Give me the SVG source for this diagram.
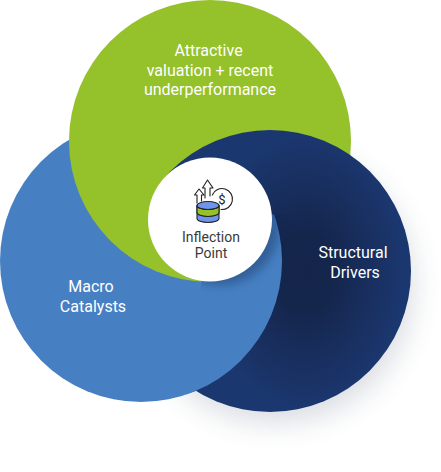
<svg xmlns="http://www.w3.org/2000/svg" width="441" height="472" viewBox="0 0 441 472">
<style>
.lbl{font-family:Roboto,"Liberation Sans",sans-serif;font-size:16px;font-weight:400;fill:#fff;text-anchor:middle}
.dark{font-size:14px;fill:#3a3a3a}
.ic{fill:none;stroke:#222;stroke-width:1.1;stroke-linejoin:round;stroke-linecap:round}
.cy{stroke:#222;stroke-width:1.1}
</style>
<defs>
<radialGradient id="navyG" gradientUnits="userSpaceOnUse" cx="0" cy="0" r="1" gradientTransform="translate(305 272) scale(98 135)">
<stop offset="0" stop-color="#14244a"/><stop offset="0.3" stop-color="#15264d"/><stop offset="1" stop-color="#1b376f"/>
</radialGradient>
<filter id="sh" x="-30%" y="-30%" width="160%" height="170%"><feGaussianBlur stdDeviation="15"/></filter>
<filter id="shW" x="-30%" y="-30%" width="160%" height="160%"><feGaussianBlur stdDeviation="5"/></filter>
<clipPath id="navySector"><polygon points="210,219.5 60,80 60,-20 460,-20 460,500 180,500"/></clipPath>
<clipPath id="blueSector"><polygon points="210,219.5 460,200 460,500 172,500"/></clipPath>
</defs>
<g id="node-shadow"><circle cx="275" cy="285" r="138" fill="#1b2a50" opacity="0.16" filter="url(#sh)"/></g>
<g id="node-macro-base"><circle cx="141" cy="261" r="141" fill="#4680c3"/></g>
<g id="node-valuation">
<circle cx="210" cy="141" r="141" fill="#95c12b"/>
<text class="lbl" x="208.500" y="56">Attractive</text>
<text class="lbl" x="210" y="76">valuation + recent</text>
<text class="lbl" x="210" y="95">underperformance</text>
</g>
<g id="node-structural">
<circle cx="270" cy="271" r="141" fill="url(#navyG)" clip-path="url(#navySector)"/>
</g>
<g id="node-macro">
<circle cx="141" cy="261" r="141" fill="#4680c3" clip-path="url(#blueSector)"/>
<text class="lbl" x="91" y="292">Macro</text>
<text class="lbl" x="93" y="312">Catalysts</text>
</g>
<g id="node-structural-label">
<text class="lbl" x="353" y="258">Structural</text>
<text class="lbl" x="355" y="278">Drivers</text>
</g>
<g id="node-inflection">
<g clip-path="url(#blueSector)"><circle cx="220" cy="225" r="60" fill="#10244a" opacity="0.35" filter="url(#shW)"/></g>
<circle cx="210" cy="219.500" r="62" fill="#fff"/>
<g id="icon">
<path class="ic" d="M197 203v-8h-2.500l4.500-6 5 6h-2.500v6"/>
<path class="ic" d="M205 198v-10h-2.500l5-8 5.500 8h-3v8"/>
<path class="ic" d="M212.300 195A10.500 10.500 0 1 1 221 209.500"/>
<text x="222" y="204" text-anchor="middle" style="font-family:Roboto,'Liberation Sans',sans-serif;font-size:13px;fill:#222">$</text>
<path class="cy" d="M197 205.500h22v13a11 4 0 0 1-22 0z" fill="#6f94ee"/>
<path class="cy" d="M197 205.500a11 4 0 0 0 22 0v7a11 4 0 0 1-22 0z" fill="#95c12b"/>
<ellipse class="cy" cx="208" cy="205.500" rx="11" ry="4" fill="#6f94ee"/>
</g>
<text class="lbl dark" x="211" y="242">Inflection</text>
<text class="lbl dark" x="211" y="258">Point</text>
</g>
<g id="connectors"></g>
</svg>
